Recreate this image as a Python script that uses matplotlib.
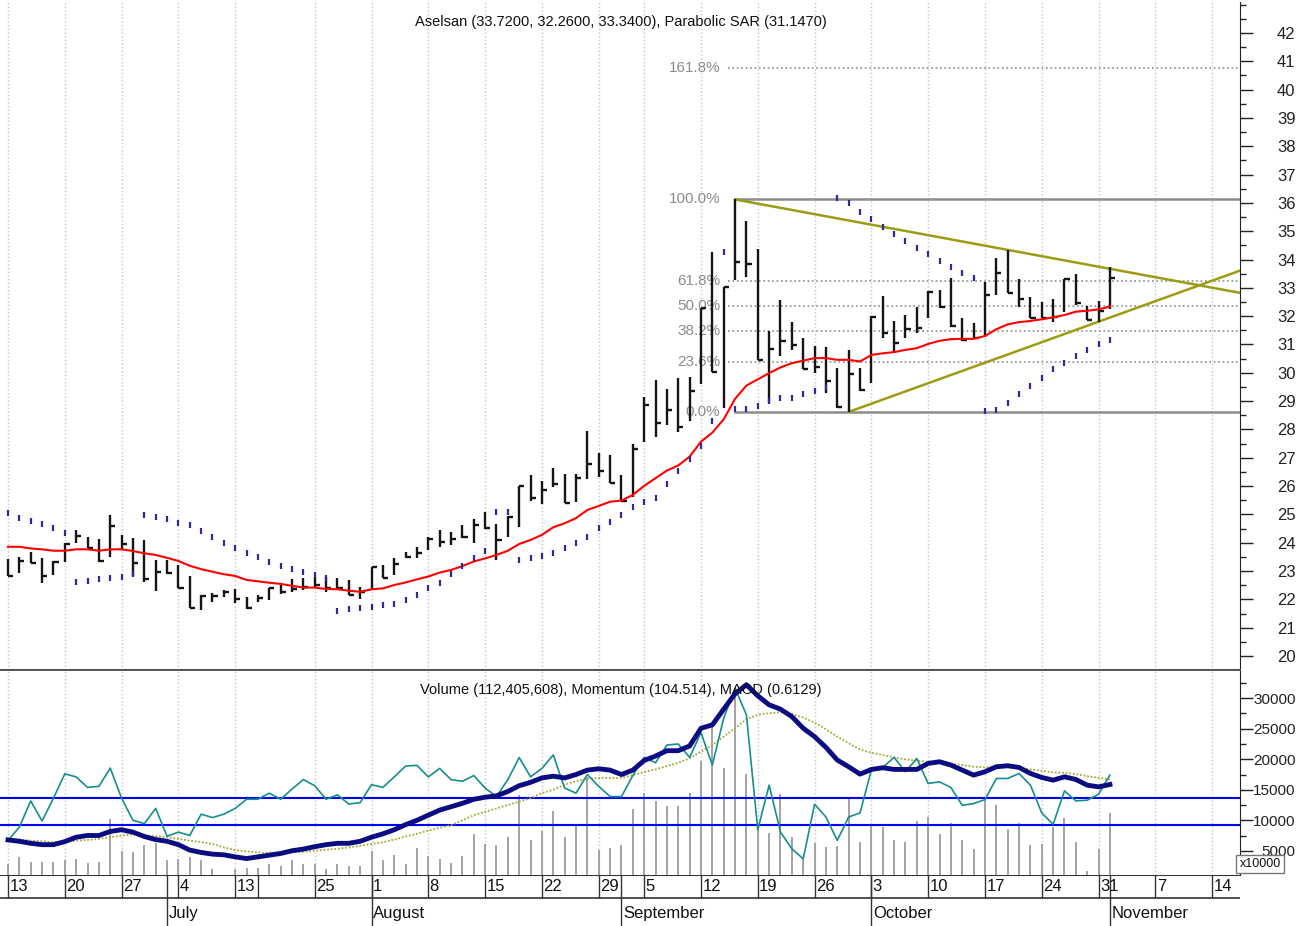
import matplotlib
matplotlib.use("Agg")
import matplotlib.pyplot as plt
from matplotlib.ticker import MultipleLocator

plt.rcParams['font.family'] = ['Liberation Sans', 'DejaVu Sans']

''' 数据 (trading days 13 Jun - 1 Nov) '''
high = [23.42, 23.51, 23.69, 23.47, 23.36, 23.98, 24.45, 24.19, 24.13, 24.98,
        24.27, 24.18, 24.10, 23.39, 23.39, 23.22, 22.83, 22.16, 22.24, 22.33,
        22.36, 22.10, 22.16, 22.42, 22.51, 22.71, 22.75, 22.78, 22.78, 22.75,
        22.69, 22.43, 23.16, 23.22, 23.45, 23.69, 23.86, 24.22, 24.45, 24.39,
        24.63, 24.83, 25.10, 24.66, 24.95, 26.02, 26.39, 26.19, 26.63, 26.43,
        26.43, 27.95, 27.16, 27.10, 26.38, 27.48, 29.13, 29.75, 29.43, 29.81,
        29.87, 32.28, 34.28, 33.04, 36.13, 35.37, 34.37, 31.48, 32.57, 31.78,
        31.22, 30.96, 30.90, 30.18, 30.81, 30.18, 32.00, 32.71, 31.84, 32.04,
        32.34, 32.89, 32.93, 33.34, 31.92, 31.77, 33.22, 34.07, 34.34, 33.30,
        32.67, 32.49, 32.61, 33.30, 33.49, 32.36, 32.55, 33.72]
low = [22.83, 22.92, 23.30, 22.59, 22.86, 23.33, 24.00, 23.80, 23.33, 23.51,
       23.75, 22.83, 22.63, 22.30, 22.90, 22.42, 21.69, 21.63, 21.92, 22.07,
       21.86, 21.66, 21.92, 21.98, 22.18, 22.27, 22.33, 22.39, 22.27, 22.33,
       22.16, 22.02, 22.36, 22.77, 22.86, 23.45, 23.45, 23.74, 23.86, 23.92,
       24.16, 23.98, 24.47, 23.39, 24.22, 24.57, 25.49, 25.37, 25.98, 25.42,
       25.45, 26.24, 26.31, 26.10, 25.49, 25.63, 27.55, 27.75, 28.16, 27.90,
       28.31, 29.61, 30.04, 28.75, 33.28, 33.40, 30.45, 28.92, 30.59, 30.81,
       30.12, 30.01, 29.28, 28.75, 28.61, 29.37, 29.63, 31.22, 30.72, 31.22,
       31.42, 31.92, 32.28, 31.63, 31.13, 31.18, 31.28, 32.75, 32.81, 32.31,
       31.92, 31.92, 31.81, 32.16, 32.40, 31.87, 31.81, 32.26]
close = [22.83, 23.36, 23.30, 22.83, 23.31, 23.95, 24.24, 23.83, 23.36, 24.59,
         23.95, 23.27, 22.72, 22.98, 22.95, 22.42, 21.69, 22.12, 22.12, 22.27,
         22.00, 21.69, 22.04, 22.39, 22.27, 22.36, 22.43, 22.51, 22.39, 22.39,
         22.16, 22.27, 23.16, 22.77, 23.25, 23.51, 23.63, 24.12, 24.04, 24.12,
         24.19, 24.63, 24.51, 24.10, 24.92, 26.02, 25.57, 25.86, 26.07, 25.42,
         26.27, 26.78, 26.55, 26.10, 25.49, 27.30, 28.86, 28.24, 28.69, 28.08,
         29.37, 32.28, 30.04, 33.04, 33.90, 33.84, 30.45, 30.83, 31.14, 30.98,
         30.13, 30.22, 29.72, 28.81, 29.96, 29.39, 31.96, 31.40, 31.07, 31.54,
         31.57, 32.87, 32.34, 31.67, 31.16, 31.22, 32.75, 33.54, 32.81, 32.62,
         31.92, 31.92, 31.98, 33.30, 32.45, 31.87, 32.20, 33.34]
ma = [23.86, 23.86, 23.80, 23.77, 23.72, 23.72, 23.77, 23.77, 23.72, 23.77,
      23.77, 23.71, 23.63, 23.57, 23.47, 23.36, 23.19, 23.07, 22.98, 22.89,
      22.83, 22.69, 22.64, 22.59, 22.55, 22.48, 22.42, 22.42, 22.37, 22.36,
      22.31, 22.27, 22.36, 22.39, 22.51, 22.60, 22.71, 22.81, 22.95, 23.04,
      23.18, 23.34, 23.45, 23.57, 23.72, 23.96, 24.10, 24.28, 24.55, 24.69,
      24.87, 25.16, 25.30, 25.45, 25.49, 25.69, 26.01, 26.28, 26.55, 26.73,
      27.04, 27.57, 27.89, 28.36, 29.08, 29.55, 29.77, 29.99, 30.19, 30.34,
      30.43, 30.52, 30.52, 30.46, 30.46, 30.40, 30.63, 30.69, 30.73, 30.81,
      30.87, 31.02, 31.13, 31.19, 31.20, 31.20, 31.30, 31.54, 31.71, 31.79,
      31.83, 31.89, 31.96, 32.04, 32.16, 32.19, 32.24, 32.34]
sar = [25.04, 24.86, 24.78, 24.66, 24.51, 24.36, 22.60, 22.65, 22.71, 22.75,
       22.80, 22.90, 24.98, 24.92, 24.84, 24.71, 24.63, 24.42, 24.22, 24.00,
       23.80, 23.63, 23.49, 23.32, 23.18, 23.06, 22.96, 22.86, 22.76, 21.60,
       21.66, 21.69, 21.73, 21.80, 21.84, 21.98, 22.16, 22.39, 22.59, 22.90,
       23.18, 23.45, 23.71, 25.08, 25.10, 23.39, 23.45, 23.55, 23.63, 23.80,
       23.98, 24.20, 24.52, 24.73, 24.98, 25.25, 25.45, 25.57, 26.08, 26.55,
       26.95, 27.42, 28.31, 34.28, 28.72, 28.73, 28.83, 29.01, 29.10, 29.10,
       29.26, 29.36, 29.51, 36.16, 36.01, 35.69, 35.43, 35.16, 34.90, 34.66,
       34.40, 34.20, 33.93, 33.73, 33.51, 33.34, 28.66, 28.69, 28.95, 29.26,
       29.55, 29.83, 30.13, 30.36, 30.61, 30.81, 31.02, 31.15]

# 指标面板 (x10000)
volume = [2801, 4021, 3245, 3245, 3245, 3522, 3744, 3078, 3245, 10177,
          5020, 4743, 6018, 6240, 3522, 3633, 4021, 3522, 1969, 1026,
          2080, 2247, 2247, 2801, 2524, 3522, 2801, 2801, 1969, 2801,
          2524, 2524, 5020, 3522, 4298, 2801, 5463, 4188, 3744, 3078,
          4188, 7682, 6129, 6018, 7238, 14171, 6850, 8181, 11564, 7238,
          9179, 17054, 5186, 5463, 5962, 11786, 14450, 13180, 12304, 12304,
          14496, 19755, 25234, 18604, 31480, 17564, 9000, 8000, 14385, 7263,
          3701, 6277, 5620, 5729, 13564, 6441, 9346, 8907, 6715, 6441,
          9838, 10551, 7701, 9620, 6715, 5236, 13838, 12469, 8633, 9620,
          6003, 6167, 8907, 10386, 6441, 1784, 5236, 11240]
momentum = [6683, 8902, 13172, 9900, 13616, 17609, 17110, 15391, 15557, 18553,
            13616, 10011, 9456, 11952, 7404, 8069, 7515, 11009, 10454, 11009,
            11952, 13450, 13450, 14448, 13450, 15114, 16666, 15668, 13450, 14171,
            12673, 12895, 15835, 15391, 17110, 18885, 18996, 17110, 18496, 16666,
            16389, 17332, 15280, 13893, 16666, 20271, 17110, 18496, 20714, 15280,
            14448, 17498, 15557, 13893, 13893, 17332, 20300, 19426, 22330, 22495,
            20303, 24358, 19043, 26714, 31645, 27261, 8468, 15756, 8085, 5345,
            3701, 12633, 10551, 6715, 10551, 11209, 18221, 18659, 20303, 17947,
            20139, 16029, 16303, 15372, 12468, 12742, 13400, 16851, 16851, 17673,
            15756, 11209, 9346, 14824, 13180, 13290, 14276, 17399]
macd = [6794, 6572, 6240, 6018, 6018, 6517, 7238, 7516, 7516, 8181,
        8459, 8070, 7349, 6850, 6572, 6018, 5131, 4743, 4465, 4354,
        4021, 3744, 4021, 4299, 4576, 5020, 5297, 5685, 6018, 6240,
        6240, 6572, 7238, 7793, 8459, 9290, 10011, 10843, 11675, 12229,
        12784, 13450, 13782, 14004, 14725, 15668, 16223, 16943, 17221, 16943,
        17498, 18219, 18441, 18219, 17498, 18219, 19800, 20522, 21399, 21399,
        22166, 25070, 25618, 28193, 30713, 32192, 30384, 28905, 28193, 26987,
        25070, 23700, 21947, 19865, 18769, 17564, 18331, 18604, 18331, 18331,
        18331, 19317, 19591, 19043, 18221, 17399, 17947, 18769, 18933, 18659,
        17673, 17015, 16577, 17125, 16687, 15756, 15482, 15865]
signal = [6961, 6850, 6683, 6572, 6406, 6517, 6683, 6794, 6961, 7238,
          7516, 7682, 7571, 7405, 7238, 6961, 6683, 6461, 6129, 5574,
          5131, 4909, 4743, 4687, 4743, 4798, 4854, 5020, 5186, 5353,
          5574, 5851, 6129, 6406, 6850, 7349, 7793, 8348, 8791, 9179,
          10011, 10843, 11398, 11953, 12507, 13062, 13616, 14448, 15003, 15835,
          16389, 16778, 16943, 16943, 16943, 17400, 17900, 18331, 18880, 19426,
          20139, 21235, 22330, 23700, 25070, 26549, 27261, 27535, 27700, 27426,
          26823, 26001, 24906, 23700, 22604, 21618, 21070, 20687, 20303, 19974,
          19755, 19591, 19481, 19317, 19043, 18769, 18659, 18769, 18769, 18604,
          18331, 18111, 17837, 17783, 17564, 17235, 16961, 16687]
levels_blue = [13671, 9233]

# 日期轴
week_idx = [0, 5, 10, 15, 20, 22, 27, 32, 37, 42, 47, 52, 56, 61, 66, 71, 76, 81, 86, 91, 96, 101, 106]
week_lbl = ['13', '20', '27', '4', '13', '', '25', '1', '8', '15', '22', '29', '5', '12',
            '19', '26', '3', '10', '17', '24', '31', '7', '14']
month_idx = [14, 32, 54, 76, 97]
month_lbl = ['July', 'August', 'September', 'October', 'November']

# fibonacci + trend lines
fib_start, fib_low, fib_high = 64, 28.62, 36.12
fib_levels = [0.0, 23.6, 38.2, 50.0, 61.8, 100.0, 161.8]
trend_upper = [(64, 36.12), (88, 34.34)]
trend_lower = [(74, 28.62), (97, 31.95)]

x = list(range(len(close)))
XMIN, XMAX = -0.704, 108.45
grid_idx = [w for w, l in zip(week_idx, week_lbl) if l]

fig = plt.figure(figsize=(13, 9.26), dpi=100)
W = 1240 / 1300
ax1 = fig.add_axes([0, 1 - 670 / 926, W, 668 / 926])
ax2 = fig.add_axes([0, 1 - 875 / 926, W, 204 / 926])
ax3 = fig.add_axes([0, 0, W, 51 / 926])

''' 价格面板 '''
for g in grid_idx:
    ax1.axvline(g, color='#c4c4c4', ls=':', lw=1, zorder=0)
    ax2.axvline(g, color='#c4c4c4', ls=':', lw=1, zorder=0)

fib_col = '#8c8c8c'
for lv in fib_levels:
    price = fib_low + (fib_high - fib_low) * lv / 100
    if lv in (0.0, 100.0):
        ax1.plot([fib_start, XMAX], [price, price], color=fib_col, lw=1.8, zorder=1)
    else:
        ax1.plot([fib_start - 0.6, XMAX], [price, price], color=fib_col, lw=1.2, ls=':', zorder=1)
    ax1.text(62.7, price, f'{lv:.1f}%', color=fib_col, fontsize=11, ha='right', va='center')

for (x0, y0), (x1_, y1_) in (trend_upper, trend_lower):
    k = (y1_ - y0) / (x1_ - x0)
    ax1.plot([x0, XMAX], [y0, y0 + k * (XMAX - x0)], color='#9c9c14', lw=1.8, zorder=2)

ax1.vlines(x, low, high, color='#151515', lw=1.7, zorder=3)
ax1.hlines(close, x, [i + 0.45 for i in x], color='#151515', lw=1.7, zorder=3)
ax1.plot(x, ma, color='#ff0000', lw=1.5, zorder=4)
ax1.plot(x, sar, ls='none', marker='|', ms=5, mew=1.6, color='#2a2a9c', zorder=4)

ax1.set_xlim(XMIN, XMAX)
ax1.set_ylim(19.51, 43.09)
ax1.set_xticks([])
ax1.yaxis.tick_right()
ax1.set_yticks(range(20, 43))
ax1.yaxis.set_minor_locator(MultipleLocator(0.5))
ax1.tick_params(axis='y', which='major', length=9, width=1, colors='#222222', labelsize=12, pad=31)
ax1.tick_params(axis='y', which='minor', length=4, width=1, colors='#222222')
for t in ax1.get_yticklabels():
    t.set_ha('right')
for s in ('left', 'top'):
    ax1.spines[s].set_visible(False)
ax1.spines['right'].set_color('#222222')
ax1.spines['bottom'].set_color('#555555')
ax1.spines['bottom'].set_linewidth(1.5)

''' 指标面板 '''
VMIN, VMAX = 1053, 34441
ax2.vlines(x, VMIN, volume, color='#9c9c9c', lw=1.3, zorder=1)
for v in levels_blue:
    ax2.axhline(v, color='#0000ff', lw=1.5, zorder=2)
ax2.plot(x, signal, color='#a8a838', lw=1.3, ls=(0, (1, 1)), zorder=3)
ax2.plot(x, momentum, color='#168f8c', lw=1.2, zorder=3)
ax2.plot(x, macd, color='#0c0c82', lw=3.5, zorder=4)
ax2.set_xlim(XMIN, XMAX)
ax2.set_ylim(VMIN, VMAX)
ax2.set_xticks([])
ax2.yaxis.tick_right()
ax2.set_yticks(range(5000, 30001, 5000))
ax2.yaxis.set_minor_locator(MultipleLocator(2500))
ax2.tick_params(axis='y', which='major', length=9, width=1, colors='#222222', labelsize=11, pad=31)
ax2.tick_params(axis='y', which='minor', length=4, width=1, colors='#222222')
for t in ax2.get_yticklabels():
    t.set_ha('right')
for s in ('left', 'top', 'bottom'):
    ax2.spines[s].set_visible(False)
ax2.spines['right'].set_color('#222222')

''' 日期轴 '''
ax3.set_xlim(XMIN, XMAX)
ax3.set_ylim(0, 1)
ax3.axis('off')
mid = 28 / 51
ax3.axhline(1, color='#333333', lw=1.5)
ax3.axhline(mid, color='#333333', lw=1.2)
ax3.vlines(week_idx, mid, 1, color='#333333', lw=1)
ax3.vlines(month_idx, 0, 1, color='#333333', lw=1)
for w, l in zip(week_idx, week_lbl):
    ax3.text(w + 0.12, (1 + mid) / 2, l, fontsize=12, ha='left', va='center', color='#111111')
for m, l in zip(month_idx, month_lbl):
    ax3.text(m + 0.15, mid / 2 - 0.02, l, fontsize=12, ha='left', va='center', color='#111111')

fig.text(621 / 1300, 1 - 22 / 926, 'Aselsan (33.7200, 32.2600, 33.3400), Parabolic SAR (31.1470)',
         fontsize=10.5, ha='center', va='center', color='#111111')
fig.text(621 / 1300, 1 - 690 / 926, 'Volume (112,405,608), Momentum (104.514), MACD (0.6129)',
         fontsize=10.5, ha='center', va='center', color='#111111')
fig.text(1260 / 1300, 1 - 864 / 926, 'x10000', fontsize=9, ha='center', va='center', color='#111111',
         bbox=dict(boxstyle='square,pad=0.25', fc='white', ec='#777777', lw=1))

fig.savefig('out.png', dpi=100)
